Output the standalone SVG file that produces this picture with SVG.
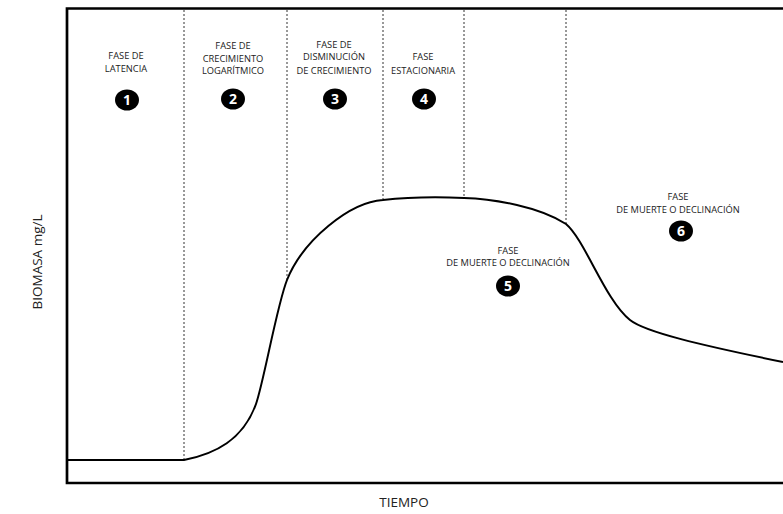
<svg xmlns="http://www.w3.org/2000/svg" width="783" height="514" viewBox="0 0 783 514">
<style>
.frame{fill:none;stroke:#000;stroke-width:2.7}
.div{fill:none;stroke:#333;stroke-width:1;stroke-dasharray:2,2}
.curve{fill:none;stroke:#000;stroke-width:2}
.lbl{font-family:"Open Sans",sans-serif;font-size:9.3px;fill:#222;text-anchor:middle}
.ax{font-family:"Open Sans",sans-serif;font-size:13.5px;fill:#222;text-anchor:middle}
.num{font-family:"Open Sans",sans-serif;font-size:14px;font-weight:bold;fill:#fff;text-anchor:middle}
</style>
<rect width="783" height="514" fill="#fff"/>
<g id="frame">
<path class="frame" d="M783,8.5 H67 V483 H783"/>
</g>
<g id="connectors">
<line class="div" x1="184" y1="10" x2="184" y2="460"/>
<line class="div" x1="287" y1="10" x2="287" y2="280"/>
<line class="div" x1="383" y1="10" x2="383" y2="200"/>
<line class="div" x1="464" y1="10" x2="464" y2="198"/>
<line class="div" x1="566" y1="10" x2="566" y2="224"/>
<path class="curve" d="M67,460 H184 C215,454 243,440 256,404 C264,381 277,305 287,280 C303,240 350,202 383,200 C410,197 440,197 464,198 C495,199 540,207 566,224 C585,240 605,300 630,320 C645,332 700,345 783,362"/>
</g>
<g id="phase1">
<text class="lbl" x="126" y="59">FASE DE</text>
<text class="lbl" x="126" y="72">LATENCIA</text>
<ellipse cx="127" cy="100" rx="12" ry="10.5"/>
<text class="num" x="127" y="105">1</text>
</g>
<g id="phase2">
<text class="lbl" x="233" y="49">FASE DE</text>
<text class="lbl" x="233" y="62">CRECIMIENTO</text>
<text class="lbl" x="233" y="74">LOGARÍTMICO</text>
<ellipse cx="233" cy="99" rx="12" ry="10.5"/>
<text class="num" x="233" y="104">2</text>
</g>
<g id="phase3">
<text class="lbl" x="334" y="48">FASE DE</text>
<text class="lbl" x="334" y="60">DISMINUCIÓN</text>
<text class="lbl" x="334" y="74">DE CRECIMIENTO</text>
<ellipse cx="335" cy="99" rx="12" ry="10.5"/>
<text class="num" x="335" y="104">3</text>
</g>
<g id="phase4">
<text class="lbl" x="423" y="60">FASE</text>
<text class="lbl" x="423" y="74">ESTACIONARIA</text>
<ellipse cx="424" cy="99" rx="12" ry="10.5"/>
<text class="num" x="424" y="104">4</text>
</g>
<g id="phase5">
<text class="lbl" x="508" y="254">FASE</text>
<text class="lbl" x="508" y="266">DE MUERTE O DECLINACIÓN</text>
<ellipse cx="508" cy="286" rx="12" ry="10.5"/>
<text class="num" x="508" y="291">5</text>
</g>
<g id="phase6">
<text class="lbl" x="678" y="200">FASE</text>
<text class="lbl" x="678" y="213">DE MUERTE O DECLINACIÓN</text>
<ellipse cx="681" cy="231" rx="12" ry="10.5"/>
<text class="num" x="681" y="236">6</text>
</g>
<g id="axes">
<text class="ax" x="404" y="507">TIEMPO</text>
<text class="ax" transform="translate(42,262) rotate(-90)">BIOMASA mg/L</text>
</g>
</svg>
